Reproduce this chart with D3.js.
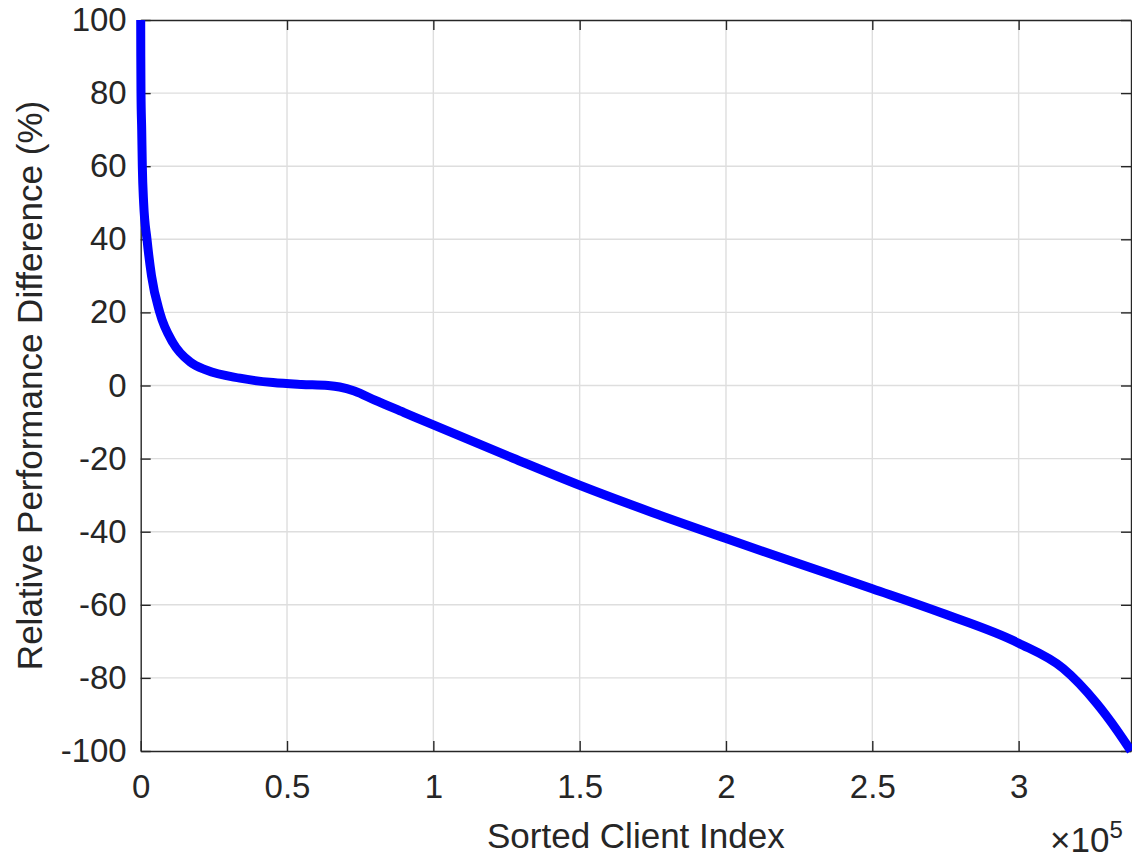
<!DOCTYPE html>
<html>
<head>
<meta charset="utf-8">
<script src="https://cdn.jsdelivr.net/npm/d3@7"></script>
<style>
  html, body { margin: 0; padding: 0; background: #fff; }
  svg { display: block; }
  text { font-family: "Liberation Sans", Arial, Helvetica, sans-serif; fill: #262626; }
</style>
</head>
<body>
<svg id="chart" width="1132" height="860"></svg>
<script>
// ---- data ----
const clientIndex = [0, 30, 100, 340, 550, 1000, 2150, 3700, 6500, 11100, 16800, 22500, 33900, 45200, 55000, 64000, 68000, 73000, 80000, 90000, 100000, 127300, 150000, 175000, 199800, 225000, 250000, 275000, 300000, 315200, 326600, 333500, 338400];
const relDiff     = [100, 90, 80, 70, 60, 50, 40, 30, 20, 11.6, 6.5, 4.2, 2.0, 0.8, 0.3, 0, -0.4, -1.5, -4.0, -7.4, -10.8, -19.9, -27.3, -34.8, -41.8, -48.8, -55.6, -62.6, -70.5, -77.4, -86.9, -94.2, -100];
const xTicks = [0, 50000, 100000, 150000, 200000, 250000, 300000];
const xTickLabels = ["0", "0.5", "1", "1.5", "2", "2.5", "3"];
const yTicks = [-100, -80, -60, -40, -20, 0, 20, 40, 60, 80, 100];
const xLabel = "Sorted Client Index";
const yLabel = "Relative Performance Difference (%)";
const xDomain = [0, 338400];
const yDomain = [-100, 100];

// ---- layout ----
const svg = d3.select("#chart");
const L = 140.7, R = 1131, T = 20, B = 751;
const x = d3.scaleLinear().domain(xDomain).range([L, R]);
const y = d3.scaleLinear().domain(yDomain).range([B, T]);
const axisColor = "#262626";

svg.append("rect").attr("width", 1132).attr("height", 860).attr("fill", "#fff");

// grid
const grid = svg.append("g");
grid.selectAll("line.gx").data(xTicks.filter(d => d > xDomain[0])).enter().append("line")
  .attr("x1", d => x(d)).attr("x2", d => x(d)).attr("y1", T).attr("y2", B)
  .attr("stroke", "#dedede").attr("stroke-width", 1.4);
grid.selectAll("line.gy").data(yTicks.filter(d => d > yDomain[0] && d < yDomain[1])).enter().append("line")
  .attr("x1", L).attr("x2", R).attr("y1", d => y(d)).attr("y2", d => y(d))
  .attr("stroke", "#dedede").attr("stroke-width", 1.4);

function styleAxis(g) {
  g.selectAll("path.domain").attr("stroke", axisColor).attr("stroke-width", 1.4);
  g.selectAll(".tick line").attr("stroke", axisColor).attr("stroke-width", 1.4);
  g.selectAll(".tick text").attr("fill", axisColor)
    .style("font-family", '"Liberation Sans", Arial, sans-serif').style("font-size", "33px");
}

// bottom axis
const gx = svg.append("g").attr("transform", `translate(0,${B})`)
  .call(d3.axisBottom(x).tickValues(xTicks).tickFormat((d, i) => xTickLabels[i])
    .tickSizeInner(-10).tickSizeOuter(0).tickPadding(24));
styleAxis(gx);
// top axis (box)
const gxt = svg.append("g").attr("transform", `translate(0,${T})`)
  .call(d3.axisTop(x).tickValues(xTicks).tickFormat("").tickSizeInner(-10).tickSizeOuter(0));
styleAxis(gxt);
// left axis
const gy = svg.append("g").attr("transform", `translate(${L},0)`)
  .call(d3.axisLeft(y).tickValues(yTicks).tickFormat(d => String(d))
    .tickSizeInner(-10).tickSizeOuter(0).tickPadding(14));
styleAxis(gy);
// right axis (box)
const gyr = svg.append("g").attr("transform", `translate(${R},0)`)
  .call(d3.axisRight(y).tickValues(yTicks).tickFormat("").tickSizeInner(-10).tickSizeOuter(0));
styleAxis(gyr);

// data line
const line = d3.line().x((d, i) => x(clientIndex[i])).y(d => y(d)).curve(d3.curveMonotoneX);
svg.append("path").datum(relDiff)
  .attr("d", line).attr("fill", "none").attr("stroke", "#0000ff")
  .attr("stroke-width", 9).attr("stroke-linejoin", "round");

// axis labels
svg.append("text").attr("x", (L + R) / 2).attr("y", 848).attr("text-anchor", "middle")
  .style("font-size", "35px").text(xLabel);
svg.append("text").attr("transform", `translate(42,${(T + B) / 2}) rotate(-90)`)
  .attr("text-anchor", "middle").style("font-size", "35px").text(yLabel);

// exponent
const ex = svg.append("text").attr("x", 1050).attr("y", 852).style("font-size", "35px");
ex.append("tspan").text("\u00d710");
ex.append("tspan").attr("dy", -14).style("font-size", "24px").text("5");
</script>
</body>
</html>
